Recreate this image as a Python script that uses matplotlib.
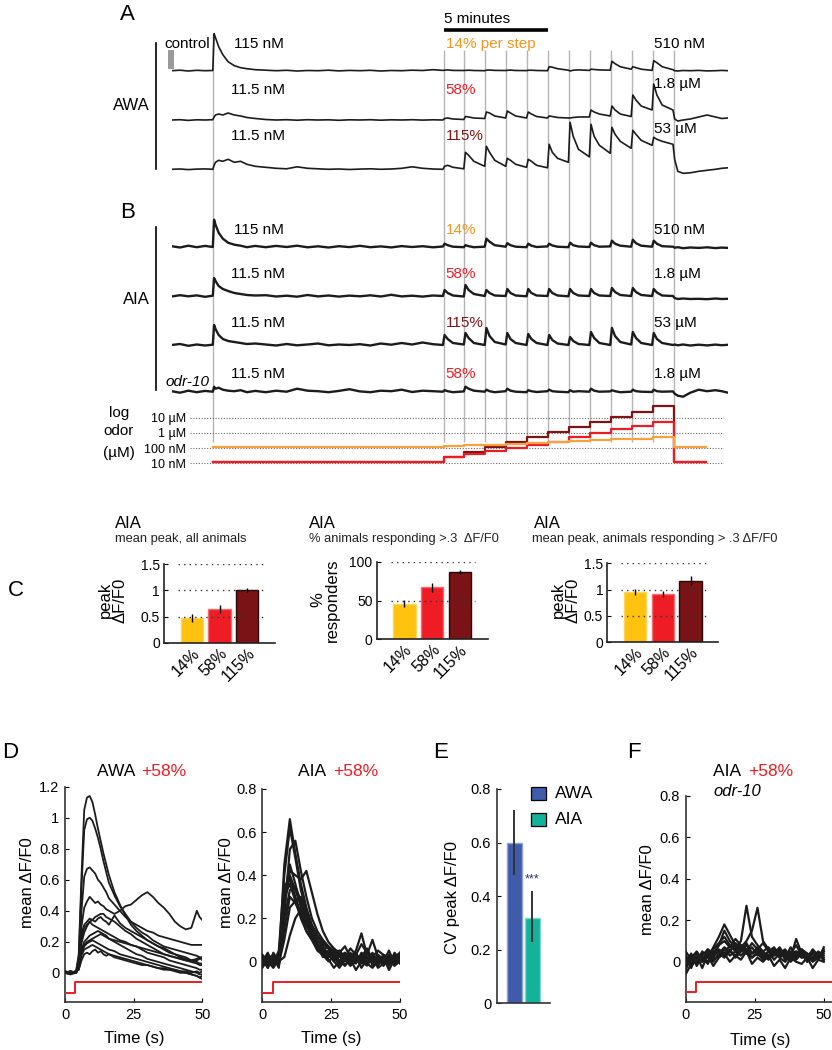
import matplotlib
matplotlib.use('Agg')
import matplotlib.pyplot as plt
from matplotlib.patches import Rectangle
from matplotlib.lines import Line2D
from matplotlib.ticker import NullLocator
import numpy as np

plt.rcParams['font.family'] = ['Liberation Sans', 'DejaVu Sans']

# ======================= DATA =======================
# Panels A/B : time (min) of odor steps
STEP_TIMES = [2, 13, 14, 15, 16, 17, 18, 19, 20, 21, 22, 23, 24]
T_AB = [0, 0.4, 0.8, 1.2, 1.6, 1.97,
        2.03, 2.1, 2.25, 2.45, 2.7, 3.0, 3.3, 3.6, 4.0,
        4.5, 5, 5.5, 6, 6.5, 7, 7.5, 8, 8.5, 9, 9.5, 10, 10.5, 11, 11.5, 12, 12.5, 12.97,
        13.05, 13.2, 13.45, 13.97,
        14.05, 14.2, 14.45, 14.97,
        15.05, 15.2, 15.45, 15.97,
        16.05, 16.2, 16.45, 16.97,
        17.05, 17.2, 17.45, 17.97,
        18.05, 18.2, 18.45, 18.97,
        19.05, 19.2, 19.45, 19.97,
        20.05, 20.2, 20.45, 20.97,
        21.05, 21.2, 21.45, 21.97,
        22.05, 22.2, 22.45, 22.97,
        23.05, 23.2, 23.45, 23.97,
        24.05, 24.2, 24.45, 24.8, 25.2, 25.6, 26.0, 26.3, 26.6]

# calcium traces (deflection, a.u.)
AWA_14 = [0, 0.5, -0.3, 0.4, 0, 0.2,
          37, 33, 24, 16, 9, 5, 3, 2, 1,
          0.5, 0, 0.4, -0.3, 0.2, 0, 0.5, -0.2, 0.3, 0, 0.4, -0.3, 0.2, 0, 0.5, 0.2, 1.0, 0.3,
          0.5, 0.8, 0.3, 0.2,
          0.3, 0.5, 0.2, 0,
          0.5, 0.7, 0.3, 0.2,
          0.4, 0.6, 0.2, 0.1,
          0.4, 0.5, 0.2, 0,
          4, 3.5, 2, 0.5,
          -0.3, 0.5, 0.8, 0.3,
          1.5, 1.2, 0.8, 0.5,
          9.5, 7, 4, 1.5,
          4, 3, 1.5, 0.3,
          10, 8, 4, 1,
          0, -0.3, 0.2, 0, 0.3, -0.2, 0, 0.3, 0]
AWA_58 = [0, 0.3, -0.4, 0.2, 0, 0.3,
          3, 5, 6, 5, 7, 5, 4, 2.5, 1.5,
          0.5, 0, 0.3, -0.2, 0.3, 0, 0.2, -0.3, 0.2, 0, 0.3, -0.2, 0.2, 0, 0.3, -0.1, 0.2, 0,
          1.5, 2, 1, 0.5,
          3.5, 3, 2, 1.5,
          8, 7, 4, 2,
          9, 7, 4, 2,
          8, 6, 3.5, 2,
          4, 3.5, 2.5, 2,
          2, 2.5, 3, 3,
          10, 8, 6, 4,
          14, 10, 6, 3.5,
          25, 20, 14, 10,
          36, 25, 15, 10,
          1, -1, 0, 1, 3, 5, 3, 1.5, 2]
AWA_115 = [0, 0.3, -0.3, 0.2, 0.4, 0,
           4, 7, 9, 8, 10, 7, 8, 5, 3,
           2, 1, 0.5, 2.5, 1, 0.5, 0, 0.3, -0.2, 0.2, 0.5, 0, 0.3, 1, 2.5, 1, 0.3, 0,
           3, 4, 2, 0.5,
           17, 14, 8, 3,
           23, 17, 9, 3,
           11, 9, 5, 2,
           10, 8, 4, 1.5,
           25, 17, 11, 7,
           47, 33, 20, 12.5,
           45, 33, 24, 16,
           42, 35, 28, 21,
           39, 35, 29, 24,
           32, 30, 28, 25,
           10, -2, -4, -3.5, -2, -1, 0, 1, 1.5]
AIA_14 = [0.5, -0.8, 1, -0.5, 0.8, -0.3,
          27, 22, 14, 8, 4, 2, 1, -0.5, 0.8,
          -0.5, 0.8, -0.3, 1, -0.6, 0.4, -0.8, 0.5, -0.4, 0.9, -0.5, 0.3, -0.7, 0.6, -0.3, 0.5, -0.6, 0.2,
          3, 1.5, 0, -0.5,
          1.5, 0.5, -0.5, 0,
          8, 5, 1.5, 0,
          3.5, 1.5, 0, -0.5,
          3, 1, -0.3, 0.3,
          3, 1.2, 0, -0.5,
          4, 1.5, 0.2, -0.3,
          4, 1.5, 0, 0.3,
          6, 3, 1, 0,
          7, 3.5, 1, 0,
          6, 3, 0.5, 0,
          -1, -0.5, -1.5, -0.8, -1.2, -0.6, -1.4, -0.9, -1.2]
AIA_58 = [-0.5, 0.8, -0.3, 0.6, -0.8, 0.3,
          18, 15, 10, 7, 5, 3, 2, 1, 0.5,
          0.8, -0.5, 0.3, -0.7, 1, -0.4, 0.5, -0.6, 0.4, -0.3, 0.7, -0.5, 1.2, -0.4, 0.3, -0.6, 0.5, 0,
          6, 3, 0.5, -0.5,
          11, 6, 2, 0,
          6, 3, 0.5, 0,
          7, 3, 0.5, -0.3,
          7, 3, 0.5, 0,
          7, 3, 0.5, -0.3,
          7, 3, 0.5, 0,
          7, 3, 0.5, 0,
          8, 4, 1, 0,
          8, 4, 1, 0,
          7, 3.5, 0.5, 0,
          -2, -3, -2.5, -3, -2.8, -3.2, -2.5, -3, -2.8]
AIA_115 = [0, 1, -0.8, 0.5, -0.5, 0.3,
           20, 16, 10, 6, 4, 3, 2, 1, 1.5,
           0.5, -0.5, 1, -0.3, 0.5, 1.5, -0.3, 0.5, 0, 0.8, -0.5, 1.5, 0.3, 2, 0.5, 2.5, 0.8, 0,
           10, 6, 2, 0.5,
           12, 7, 2, 0,
           17, 9, 3, 0.5,
           12, 6, 2, 0,
           11, 6, 2, 0,
           10, 5, 1.5, 0,
           8, 4, 1, 0,
           13, 7, 2, 0,
           17, 9, 3, 0.5,
           13, 7, 2, 0,
           12, 6, 2, 0,
           0.5, -0.3, 0.5, -0.5, 0.3, -0.4, 0.4, -0.2, 0.2]
AIA_ODR10_58 = [0.5, -1, 1, -0.5, 0.8, 0,
                5, 3, 4, 2, 1, 0.5, 1.5, -0.5, 0.8,
                -0.5, 1, 0, 3, 1, 0.5, -0.5, 0.8, 2.5, 0.3, -0.5, 1, 0.5, 2, -0.3, 1, 0.5, 0,
                1.5, 0.5, -0.5, 0.3,
                5, 3, 1, 0,
                2, 0.5, -0.5, 0.5,
                3, 1, 0, -0.5,
                1.5, 0.5, -0.3, 0.5,
                2, 0.5, 0, -0.5,
                1.5, 0, 0.5, 0,
                3, 1, 0, 0.3,
                1.5, 0.5, -0.5, 0,
                2, 0.5, 0, -0.3,
                2, 0.5, 0, 0.3,
                -2, -4, -5, -1, 2, 0.5, 1.5, 0.5, -1]

# odor staircases (concentration in uM)
ODOR_T = [2, 13, 14, 15, 16, 17, 18, 19, 20, 21, 22, 23, 24, 25.55]
ODOR_14 = [0.115, 0.131, 0.149, 0.170, 0.194, 0.221, 0.252, 0.288, 0.328, 0.374, 0.426, 0.51, 0.115, 0.115]
ODOR_58 = [0.0115, 0.025, 0.042, 0.068, 0.10, 0.16, 0.27, 0.54, 1.0, 1.8, 2.7, 5.2, 0.0115, 0.0115]
ODOR_115 = [0.0115, 0.025, 0.054, 0.115, 0.25, 0.53, 1.15, 2.45, 5.3, 11.4, 24.5, 55, 0.0115, 0.0115]
ODOR_TICKS = [10, 1, 0.1, 0.01]
ODOR_TICKLABELS = ['10 µM', '1 µM', '100 nM', '10 nM']

# Panel C
C_LABELS = ['14%', '58%', '115%']
C1_MEAN = [0.47, 0.65, 1.01]
C1_ERR = [0.07, 0.08, 0.04]
C2_MEAN = [46, 67, 87]
C2_ERR = [5, 6, 2.5]
C3_MEAN = [0.95, 0.92, 1.17]
C3_ERR = [0.06, 0.06, 0.08]

# Panel D/F traces (time in s)
T_D = [0, 2, 4, 5, 6, 7, 8, 9, 10, 11, 12, 13, 14, 15, 16, 18, 20, 22, 24, 26, 28, 30,
       32, 34, 36, 38, 40, 42, 44, 46, 48, 49, 50]
AWA_D = [
    [0.00, 0.01, 0.00, 0.12, 0.62, 1.05, 1.13, 1.14, 1.10, 1.02, 0.93, 0.85, 0.77, 0.70, 0.63, 0.52, 0.44, 0.37, 0.31, 0.27, 0.24, 0.21, 0.19, 0.17, 0.15, 0.13, 0.12, 0.10, 0.09, 0.08, 0.07, 0.06, 0.06],
    [0.00, -0.01, 0.01, 0.10, 0.55, 0.92, 0.99, 1.00, 0.98, 0.93, 0.87, 0.80, 0.72, 0.65, 0.58, 0.50, 0.43, 0.38, 0.33, 0.29, 0.26, 0.24, 0.21, 0.19, 0.17, 0.16, 0.15, 0.14, 0.13, 0.12, 0.11, 0.10, 0.10],
    [0.01, 0.00, 0.00, 0.07, 0.40, 0.62, 0.67, 0.68, 0.66, 0.64, 0.60, 0.58, 0.55, 0.52, 0.48, 0.44, 0.40, 0.36, 0.33, 0.31, 0.29, 0.27, 0.26, 0.24, 0.23, 0.22, 0.21, 0.20, 0.19, 0.18, 0.18, 0.18, 0.18],
    [0.00, 0.01, 0.00, 0.05, 0.30, 0.42, 0.46, 0.49, 0.47, 0.45, 0.46, 0.44, 0.43, 0.41, 0.40, 0.38, 0.40, 0.43, 0.44, 0.47, 0.50, 0.52, 0.49, 0.45, 0.42, 0.38, 0.33, 0.30, 0.28, 0.29, 0.40, 0.36, 0.34],
    [0.00, 0.00, 0.01, 0.04, 0.25, 0.31, 0.33, 0.35, 0.34, 0.36, 0.37, 0.38, 0.38, 0.36, 0.35, 0.33, 0.30, 0.27, 0.25, 0.22, 0.20, 0.18, 0.16, 0.14, 0.12, 0.11, 0.10, 0.09, 0.08, 0.07, 0.06, 0.05, 0.05],
    [0.01, 0.00, 0.00, 0.04, 0.22, 0.29, 0.31, 0.33, 0.34, 0.33, 0.35, 0.36, 0.34, 0.33, 0.31, 0.37, 0.32, 0.29, 0.27, 0.25, 0.23, 0.21, 0.19, 0.17, 0.16, 0.14, 0.12, 0.11, 0.10, 0.08, 0.08, 0.09, 0.10],
    [0.00, 0.01, 0.00, 0.03, 0.19, 0.26, 0.30, 0.33, 0.31, 0.30, 0.29, 0.28, 0.27, 0.26, 0.25, 0.23, 0.21, 0.20, 0.18, 0.17, 0.15, 0.13, 0.12, 0.11, 0.10, 0.08, 0.07, 0.06, 0.05, 0.04, 0.03, 0.02, 0.02],
    [0.00, 0.00, 0.01, 0.03, 0.15, 0.20, 0.22, 0.24, 0.25, 0.26, 0.27, 0.26, 0.25, 0.24, 0.22, 0.20, 0.18, 0.16, 0.14, 0.12, 0.11, 0.09, 0.08, 0.07, 0.06, 0.05, 0.04, 0.03, 0.02, 0.01, 0.00, -0.01, -0.01],
    [0.01, 0.00, 0.00, 0.03, 0.13, 0.18, 0.20, 0.21, 0.22, 0.23, 0.24, 0.25, 0.24, 0.23, 0.22, 0.21, 0.20, 0.19, 0.18, 0.17, 0.16, 0.15, 0.14, 0.13, 0.12, 0.11, 0.10, 0.09, 0.08, 0.08, 0.09, 0.10, 0.08],
    [0.00, -0.01, 0.00, 0.03, 0.13, 0.17, 0.19, 0.20, 0.21, 0.20, 0.19, 0.18, 0.17, 0.16, 0.15, 0.14, 0.12, 0.11, 0.10, 0.09, 0.08, 0.07, 0.06, 0.05, 0.04, 0.03, 0.02, 0.01, 0.00, -0.01, -0.02, -0.03, -0.02],
    [0.00, 0.00, 0.01, 0.02, 0.11, 0.15, 0.16, 0.17, 0.18, 0.17, 0.16, 0.15, 0.14, 0.13, 0.12, 0.11, 0.10, 0.09, 0.08, 0.07, 0.06, 0.05, 0.04, 0.03, 0.02, 0.02, 0.01, 0.00, 0.00, -0.01, -0.02, -0.03, -0.04],
    [0.00, 0.00, 0.01, 0.02, 0.08, 0.12, 0.13, 0.12, 0.14, 0.15, 0.13, 0.14, 0.12, 0.11, 0.12, 0.10, 0.09, 0.08, 0.07, 0.06, 0.05, 0.05, 0.04, 0.03, 0.03, 0.02, 0.02, 0.01, 0.01, 0.00, 0.01, 0.00, 0.01],
]

T_N = [0, 2, 4, 6, 8, 10, 12, 14, 16, 18, 20, 22, 24, 26, 28, 30, 32, 34, 36, 38, 40, 42, 44, 46, 48, 50]
AIA_D = [
    [0.02, -0.03, 0.04, 0.00, 0.45, 0.66, 0.50, 0.36, 0.25, 0.17, 0.12, 0.08, 0.06, 0.03, 0.05, 0.01, 0.04, 0.00, 0.03, -0.01, 0.04, 0.00, 0.03, -0.02, 0.04, 0.01],
    [-0.02, 0.03, -0.01, 0.05, 0.40, 0.62, 0.48, 0.33, 0.24, 0.15, 0.10, 0.07, 0.03, 0.05, 0.00, 0.04, -0.01, 0.03, 0.01, 0.05, -0.02, 0.03, 0.00, 0.05, -0.01, 0.03],
    [0.03, -0.01, 0.02, -0.03, 0.25, 0.42, 0.40, 0.38, 0.42, 0.32, 0.22, 0.14, 0.09, 0.06, 0.04, 0.07, 0.02, 0.05, 0.13, 0.03, 0.10, 0.02, -0.01, 0.03, 0.00, 0.04],
    [0.00, 0.04, -0.02, 0.02, 0.30, 0.45, 0.36, 0.25, 0.18, 0.12, 0.08, 0.05, 0.02, 0.04, -0.01, 0.03, 0.00, 0.02, -0.03, 0.01, 0.03, -0.02, 0.02, -0.04, 0.01, 0.02],
    [-0.03, 0.01, 0.03, -0.01, 0.35, 0.38, 0.30, 0.22, 0.14, 0.10, 0.06, 0.03, 0.05, 0.00, 0.03, -0.02, 0.02, 0.04, -0.01, 0.02, 0.00, 0.03, -0.02, 0.01, 0.03, -0.01],
    [0.01, -0.02, 0.00, 0.03, 0.28, 0.40, 0.33, 0.26, 0.20, 0.16, 0.12, 0.09, 0.06, 0.02, 0.04, 0.01, -0.02, 0.02, 0.00, 0.04, 0.01, -0.01, 0.03, 0.02, -0.02, 0.02],
    [0.02, 0.00, -0.03, 0.01, 0.20, 0.33, 0.35, 0.28, 0.20, 0.13, 0.08, 0.04, 0.01, -0.03, 0.00, -0.02, 0.01, -0.04, 0.00, -0.02, 0.02, -0.03, -0.01, 0.01, -0.02, 0.00],
    [-0.01, 0.03, 0.01, -0.02, 0.15, 0.30, 0.27, 0.22, 0.17, 0.11, 0.07, 0.02, 0.04, 0.01, 0.03, 0.00, 0.02, -0.01, 0.04, 0.02, 0.00, 0.03, 0.01, -0.01, 0.02, 0.04],
    [0.03, 0.00, 0.02, -0.01, 0.10, 0.25, 0.28, 0.20, 0.14, 0.10, 0.05, 0.03, 0.00, 0.02, -0.02, 0.01, 0.03, 0.00, 0.02, 0.06, 0.01, 0.00, 0.02, 0.01, 0.00, 0.02],
    [0.00, -0.02, 0.02, 0.00, 0.02, 0.12, 0.20, 0.24, 0.17, 0.12, 0.08, 0.05, 0.07, 0.03, 0.05, 0.02, 0.06, 0.03, 0.08, 0.04, 0.02, 0.05, 0.03, 0.00, 0.02, 0.01],
    [-0.02, 0.02, -0.01, 0.03, 0.22, 0.52, 0.56, 0.42, 0.30, 0.20, 0.14, 0.10, 0.07, 0.05, 0.02, 0.04, 0.01, 0.03, 0.00, 0.02, 0.00, 0.01, -0.02, 0.02, 0.00, 0.03],
    [0.01, -0.03, 0.02, -0.02, 0.30, 0.36, 0.28, 0.30, 0.22, 0.15, 0.10, 0.06, 0.03, 0.00, -0.03, 0.01, -0.02, 0.00, 0.02, -0.01, -0.03, 0.00, 0.01, -0.02, 0.03, 0.00],
]
AIA_F = [
    [0.02, -0.03, 0.04, 0.00, 0.06, 0.03, 0.08, 0.15, 0.10, 0.07, 0.05, 0.09, 0.04, 0.06, 0.02, 0.05, 0.03, 0.06, 0.01, 0.04, 0.05, 0.02, 0.04, 0.01, 0.03, 0.05],
    [-0.04, 0.03, 0.00, 0.05, 0.02, 0.07, 0.12, 0.18, 0.13, 0.08, 0.06, 0.04, 0.07, 0.03, 0.05, 0.02, 0.06, 0.04, 0.02, 0.07, 0.03, 0.05, 0.00, 0.04, 0.02, 0.06],
    [0.03, -0.01, 0.04, 0.01, 0.05, 0.02, 0.06, 0.04, 0.08, 0.06, 0.10, 0.27, 0.12, 0.08, 0.05, 0.07, 0.03, 0.05, 0.02, 0.04, 0.08, 0.03, 0.01, 0.05, 0.03, 0.02],
    [0.00, 0.04, -0.02, 0.03, 0.00, 0.05, 0.04, 0.07, 0.05, 0.09, 0.07, 0.10, 0.15, 0.26, 0.10, 0.06, 0.04, 0.07, 0.03, 0.05, 0.02, 0.06, 0.04, 0.02, 0.05, 0.03],
    [-0.02, 0.01, 0.03, -0.03, 0.04, 0.01, 0.03, 0.06, 0.03, 0.05, 0.08, 0.06, 0.04, 0.07, 0.03, 0.05, 0.01, 0.04, 0.06, 0.02, 0.11, 0.04, 0.02, 0.04, 0.01, 0.07],
    [0.05, 0.01, -0.01, 0.03, 0.06, 0.04, 0.08, 0.10, 0.07, 0.11, 0.08, 0.05, 0.09, 0.06, 0.04, 0.03, 0.05, 0.02, 0.04, 0.00, 0.03, 0.05, 0.02, 0.06, 0.03, 0.01],
    [-0.06, -0.01, 0.02, 0.00, 0.03, -0.02, 0.02, 0.04, 0.00, 0.03, 0.01, 0.05, -0.01, 0.02, 0.00, 0.03, -0.02, 0.01, -0.03, 0.02, 0.00, -0.01, 0.02, -0.03, 0.01, 0.00],
    [0.01, 0.03, 0.00, 0.02, -0.01, 0.04, 0.05, 0.03, 0.06, 0.02, 0.05, 0.08, 0.04, 0.06, 0.09, 0.05, 0.07, 0.03, 0.05, 0.02, 0.04, 0.06, 0.03, 0.05, 0.02, 0.04],
    [0.02, -0.02, 0.01, 0.04, 0.02, 0.06, 0.09, 0.12, 0.08, 0.05, 0.03, 0.06, 0.02, 0.04, 0.01, 0.03, 0.06, 0.02, 0.00, 0.03, 0.01, 0.04, 0.00, 0.02, 0.04, 0.01],
    [-0.01, 0.02, 0.05, 0.01, 0.03, 0.00, 0.04, 0.02, 0.05, 0.03, 0.07, 0.04, 0.02, 0.05, 0.03, 0.01, 0.04, 0.06, 0.03, 0.01, 0.05, 0.02, 0.03, 0.00, 0.02, 0.05],
]
STIM_T = [0, 3.8, 50]
STIM_D1 = [-0.13, -0.06, -0.06]
STIM_D2 = [-0.145, -0.098, -0.098]
STIM_F = [-0.147, -0.098, -0.098]
STIM_F_T = [0, 3.8, 52.5]

# Panel E
E_LABELS = ['AWA', 'AIA']
E_CV = [0.60, 0.32]
E_LOW = [0.48, 0.23]
E_HIGH = [0.72, 0.42]

# ======================= STYLE / LAYOUT =======================
W, H = 832, 1050
fig = plt.figure(figsize=(W / 100, H / 100), dpi=100)
fig.patch.set_facecolor('white')

ORANGE = '#F7941D'
STAIR_OR = '#F6A23E'
RED = '#ED1C24'
DRED = '#7E1416'
TRACE = '#1c1c1c'
GRAYL = '#b4b4b4'


def px_axes(x0, y0, x1, y1):
    return fig.add_axes([x0 / W, 1 - y1 / H, (x1 - x0) / W, (y1 - y0) / H])


def ftext(x, y, s, **kw):
    kw.setdefault('fontsize', 11)
    kw.setdefault('va', 'center')
    kw.setdefault('ha', 'left')
    return fig.text(x / W, 1 - y / H, s, **kw)


# ---------------- Panels A & B (traces) ----------------
Y0 = 475  # axis bottom in px
ax = px_axes(171.6, 20, 728, Y0)
ax.set_xlim(0, 26.6)
ax.set_ylim(0, Y0 - 20)
ax.axis('off')

ax.vlines(STEP_TIMES[:1], Y0 - 442, Y0 - 34, color=GRAYL, lw=1.0, zorder=1)
ax.vlines(STEP_TIMES[1:], Y0 - 442, Y0 - 50, color=GRAYL, lw=1.0, zorder=1)

baselines = {  # px from top
    'AWA_14': 70.7, 'AWA_58': 120, 'AWA_115': 169.3,
    'AIA_14': 246.7, 'AIA_58': 296, 'AIA_115': 345, 'AIA_ODR': 391.7}
traces = [(AWA_14, 'AWA_14', 1.2), (AWA_58, 'AWA_58', 1.2), (AWA_115, 'AWA_115', 1.2),
          (AIA_14, 'AIA_14', 1.7), (AIA_58, 'AIA_58', 1.7), (AIA_115, 'AIA_115', 1.7),
          (AIA_ODR10_58, 'AIA_ODR', 1.7)]
for vals, key, lw in traces:
    ax.plot(T_AB, (Y0 - baselines[key]) + np.array(vals), color=TRACE, lw=lw, zorder=3)

ax.plot([13, 18], [Y0 - 29.5, Y0 - 29.5], color='black', lw=2.6, clip_on=False, solid_capstyle='butt')
ftext(444, 19, '5 minutes', fontsize=11)

ftext(120, 15, 'A', fontsize=16)
ftext(164, 44, 'control', fontsize=11)
ftext(234, 44, '115 nM', fontsize=11)
ftext(446, 44, '14% per step', fontsize=11, color=ORANGE)
ftext(654, 44, '510 nM', fontsize=11)
ftext(231, 90, '11.5 nM', fontsize=11)
ftext(445, 90, '58%', fontsize=11, color=RED)
ftext(654, 84, '1.8 µM', fontsize=11)
ftext(231, 136, '11.5 nM', fontsize=11)
ftext(446, 136, '115%', fontsize=11, color=DRED)
ftext(654, 129, '53 µM', fontsize=11)
ftext(150, 105, 'AWA', fontsize=12, ha='right')
fig.add_artist(Line2D([155.8 / W, 155.8 / W], [1 - 43.3 / H, 1 - 169.3 / H], color='black', lw=1.2))
fig.add_artist(Rectangle((168 / W, 1 - 69.3 / H), 6.3 / W, 19.3 / H, color='#9a9a9a', lw=0))

ftext(120, 212, 'B', fontsize=16)
ftext(234, 230, '115 nM', fontsize=11)
ftext(446, 230, '14%', fontsize=11, color=ORANGE)
ftext(654, 230, '510 nM', fontsize=11)
ftext(231, 274, '11.5 nM', fontsize=11)
ftext(445, 274, '58%', fontsize=11, color=RED)
ftext(654, 274, '1.8 µM', fontsize=11)
ftext(231, 323, '11.5 nM', fontsize=11)
ftext(446, 323, '115%', fontsize=11, color=DRED)
ftext(654, 323, '53 µM', fontsize=11)
ftext(166, 382, 'odr-10', fontsize=11, style='italic')
ftext(231, 374, '11.5 nM', fontsize=11)
ftext(445, 374, '58%', fontsize=11, color=RED)
ftext(654, 374, '1.8 µM', fontsize=11)
ftext(150, 300, 'AIA', fontsize=12, ha='right')
fig.add_artist(Line2D([155.8 / W, 155.8 / W], [1 - 226.7 / H, 1 - 390 / H], color='black', lw=1.2))

# ---------------- odor staircase ----------------
axo = px_axes(190, 398, 723.5, 470)
axo.set_xlim(0.88, 26.38)
axo.set_yscale('log')
axo.set_ylim(0.00362, 197.7)
for s in axo.spines.values():
    s.set_visible(False)
axo.set_yticks(ODOR_TICKS)
axo.set_yticklabels(ODOR_TICKLABELS, fontsize=9)
axo.yaxis.set_minor_locator(NullLocator())
axo.tick_params(axis='y', length=0, pad=3)
axo.set_xticks([])
axo.grid(axis='y', which='major', ls=(0, (1, 1.5)), color='#666666', lw=0.8)
axo.patch.set_alpha(0)
axo.step(ODOR_T, ODOR_115, where='post', color=DRED, lw=1.6, zorder=3)
axo.step(ODOR_T, ODOR_58, where='post', color=RED, lw=1.6, zorder=4)
axo.step(ODOR_T, ODOR_14, where='post', color=STAIR_OR, lw=1.6, zorder=5)
ftext(119, 413, 'log', fontsize=11, ha='center')
ftext(119, 431, 'odor', fontsize=11, ha='center')
ftext(119, 453, '(µM)', fontsize=11, ha='center')

# ---------------- Panel C ----------------
BAR_COLORS = ['#FFC20E', '#EE1C25', '#7A1315']
BAR_EDGES = ['#FFD55C', '#F56B70', '#2a0808']


def bar_panel(box, means, errs, ylim, grid, yticks, yticklabels):
    a = px_axes(*box)
    xs = np.arange(1, len(means) + 1)
    a.bar(xs, means, width=0.8, color=BAR_COLORS, edgecolor=BAR_EDGES, lw=1.0, zorder=2)
    a.errorbar(xs, means, yerr=errs, fmt='none', ecolor='black', elinewidth=1.0, capsize=0, zorder=4)
    a.hlines(grid, 0.5, 3.55, colors='#333333', linestyles=(0, (1, 3)), lw=1.0, zorder=3)
    a.set_xlim(0, 4)
    a.set_ylim(*ylim)
    a.spines['top'].set_visible(False)
    a.spines['right'].set_visible(False)
    for s in ['left', 'bottom']:
        a.spines[s].set_linewidth(1.2)
        a.spines[s].set_color('#222222')
    a.set_yticks(yticks)
    a.set_yticklabels(yticklabels, fontsize=10)
    a.tick_params(axis='y', direction='in', length=3, pad=3)
    a.set_xticks(xs)
    a.set_xticklabels(C_LABELS, rotation=45, ha='right', va='top', rotation_mode='anchor', fontsize=11.5)
    a.tick_params(axis='x', length=0, pad=2)
    a.patch.set_alpha(0)
    return a


ftext(8, 590, 'C', fontsize=16)
c1 = bar_panel((164, 564.3, 275, 642.7), C1_MEAN, C1_ERR, (0, 1.5), [0.5, 1.0, 1.5],
               [0, 0.5, 1, 1.5], ['0', '0.5', '1', '1.5'])
c2 = bar_panel((376.7, 561.7, 487.7, 639.3), C2_MEAN, C2_ERR, (0, 100), [50, 100],
               [0, 50, 100], ['0', '50', '100'])
c3 = bar_panel((607.3, 563.3, 718.3, 642), C3_MEAN, C3_ERR, (0, 1.5), [0.5, 1.0, 1.5],
               [0, 0.5, 1, 1.5], ['0', '0.5', '1', '1.5'])

ftext(115, 523, 'AIA', fontsize=12)
ftext(115, 539, 'mean peak, all animals', fontsize=9.3, color='#222222')
ftext(309, 523, 'AIA', fontsize=12)
ftext(309, 539, '% animals responding >.3  ΔF/F0', fontsize=9.3, color='#222222')
ftext(534, 523, 'AIA', fontsize=12)
ftext(532, 539, 'mean peak, animals responding > .3 ΔF/F0', fontsize=9.3, color='#222222')
ftext(113, 600, 'peak\nΔF/F0', fontsize=12, rotation=90, ha='center', multialignment='center', linespacing=1.0)
ftext(325, 600, '%\nresponders', fontsize=12, rotation=90, ha='center', multialignment='center', linespacing=1.0)
ftext(566, 600, 'peak\nΔF/F0', fontsize=12, rotation=90, ha='center', multialignment='center', linespacing=1.0)


# ---------------- Panels D, F ----------------
def trace_panel(box, t, data, ylim, yticks, yticklabels, stim_t, stim, lw, xmax=50):
    a = px_axes(*box)
    for tr in data:
        a.plot(t, tr, color=TRACE, lw=lw, zorder=3)
    a.step(stim_t, stim, where='post', color=RED, lw=1.4, zorder=4)
    a.set_xlim(0, xmax)
    a.set_ylim(*ylim)
    a.spines['top'].set_visible(False)
    a.spines['right'].set_visible(False)
    for s in ['left', 'bottom']:
        a.spines[s].set_linewidth(1.2)
        a.spines[s].set_color('#333333')
    a.set_yticks(yticks)
    a.set_yticklabels(yticklabels, fontsize=10.5)
    a.set_xticks([0, 25, 50])
    a.set_xticklabels(['0', '25', '50'], fontsize=10.5)
    a.tick_params(direction='in', length=3, pad=4)
    a.patch.set_alpha(0)
    return a


ftext(2, 753, 'D', fontsize=16)
d1 = trace_panel((65, 786.7, 202.3, 1002.3), T_D, AWA_D, (-0.19, 1.2),
                 [0, 0.2, 0.4, 0.6, 0.8, 1.0, 1.2], ['0', '0.2', '0.4', '0.6', '0.8', '1', '1.2'],
                 STIM_T, STIM_D1, 1.3)
d2 = trace_panel((262.3, 789, 400, 1002.3), T_N, AIA_D, (-0.19, 0.8),
                 [0, 0.2, 0.4, 0.6, 0.8], ['0', '0.2', '0.4', '0.6', '0.8'],
                 STIM_T, STIM_D2, 1.6)
f1 = trace_panel((685.7, 795.7, 831.5, 1002.3), T_N, AIA_F, (-0.195, 0.8),
                 [0, 0.2, 0.4, 0.6, 0.8], ['0', '0.2', '0.4', '0.6', '0.8'],
                 STIM_F_T, STIM_F, 1.6, xmax=52.8)

ftext(97, 772, 'AWA ', fontsize=12.5)
ftext(141, 772, '+58%', fontsize=12.5, color=RED)
ftext(298, 772, 'AIA ', fontsize=12.5)
ftext(333, 772, '+58%', fontsize=12.5, color=RED)
ftext(28, 883, 'mean ΔF/F0', fontsize=12, rotation=90, ha='center')
ftext(227, 883, 'mean ΔF/F0', fontsize=12, rotation=90, ha='center')
ftext(134, 1038, 'Time (s)', fontsize=12, ha='center')
ftext(331, 1038, 'Time (s)', fontsize=12, ha='center')

ftext(627, 753, 'F', fontsize=16)
ftext(713, 772, 'AIA ', fontsize=12.5)
ftext(748, 772, '+58%', fontsize=12.5, color=RED)
ftext(713, 792, 'odr-10', fontsize=12, style='italic')
ftext(647, 890, 'mean ΔF/F0', fontsize=12, rotation=90, ha='center')
ftext(760, 1041, 'Time (s)', fontsize=12, ha='center')

# ---------------- Panel E ----------------
ftext(433, 753, 'E', fontsize=16)
E_COLORS = ['#3F5BAA', '#13B29A']
E_EDGES = ['#8FA0D6', '#7ED9C9']
ae = px_axes(496.7, 789, 550, 1003.3)
xe = np.arange(1, len(E_CV) + 1)
ae.bar(xe, E_CV, width=0.83, color=E_COLORS, edgecolor=E_EDGES, lw=1.0, zorder=2)
ae.vlines(xe, E_LOW, E_HIGH, color='#333333', lw=1.4, zorder=3)
ae.set_xlim(0.03, 2.99)
ae.set_ylim(0, 0.8)
ae.spines['top'].set_visible(False)
ae.spines['right'].set_visible(False)
for s in ['left', 'bottom']:
    ae.spines[s].set_linewidth(1.2)
    ae.spines[s].set_color('#333333')
ae.set_yticks([0, 0.2, 0.4, 0.6, 0.8])
ae.set_yticklabels(['0', '0.2', '0.4', '0.6', '0.8'], fontsize=10.5)
ae.set_xticks([])
ae.tick_params(axis='y', direction='in', length=3, pad=4)
ae.patch.set_alpha(0)
ae.text(2, E_HIGH[1] + 0.02, '***', ha='center', va='bottom', fontsize=9, color='#2B3566')
ftext(453, 897, 'CV peak ΔF/F0', fontsize=12, rotation=90, ha='center')
for i, (lab, col) in enumerate(zip(E_LABELS, E_COLORS)):
    y = 793.3 + 26 * i
    fig.add_artist(Rectangle((531 / W, 1 - (y + 6.7) / H), 15 / W, 13.3 / H,
                             facecolor=col, edgecolor='black', lw=0.9))
    ftext(555, y, lab, fontsize=12.5)

fig.savefig('out.png', dpi=100, facecolor='white')
